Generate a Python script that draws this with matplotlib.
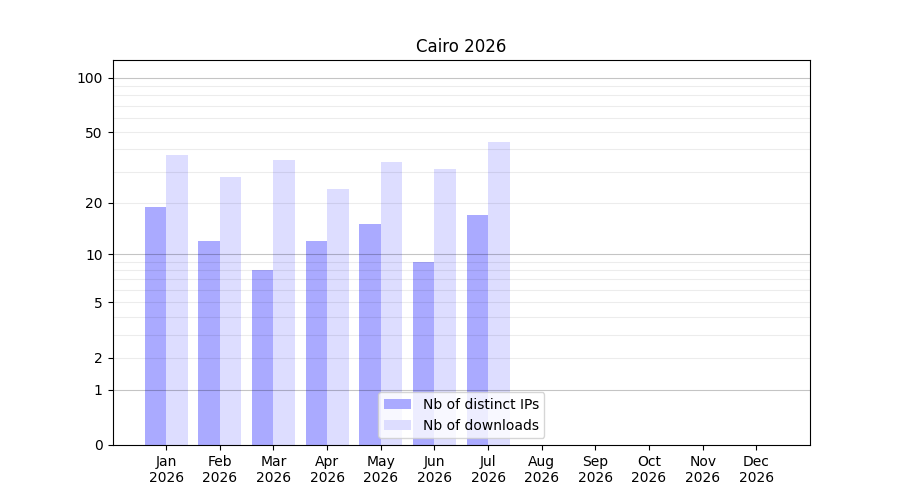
import numpy as np
import matplotlib
matplotlib.use('Agg')
import matplotlib.pyplot as plt
import matplotlib.ticker as ticker

months = ['Jan', 'Feb', 'Mar', 'Apr', 'May', 'Jun',
          'Jul', 'Aug', 'Sep', 'Oct', 'Nov', 'Dec']
year = 2026
distinct_ips = [19, 12, 8, 12, 15, 9, 17, 0, 0, 0, 0, 0]
downloads = [37, 28, 35, 24, 34, 31, 44, 0, 0, 0, 0, 0]

major_ticks = [0, 1, 2, 5, 10, 20, 50, 100]
minor_ticks = [3, 4, 6, 7, 8, 9, 30, 40, 60, 70, 80, 90]
decades = [1, 10, 100]


def forward(v):
    # log(1 + x) so that zero stays on the axis
    return np.log10(1 + np.clip(v, 0, None))


def inverse(v):
    return 10 ** v - 1


fig, ax = plt.subplots(figsize=(9, 5), dpi=100)

x = np.arange(len(months))
width = 0.4
ax.bar(x - width / 2, distinct_ips, width, color='#aaaaff',
       label='Nb of distinct IPs', zorder=2)
ax.bar(x + width / 2, downloads, width, color='#ddddff',
       label='Nb of downloads', zorder=2)

ax.set_yscale('function', functions=(forward, inverse))
ax.set_ylim(0, 125)
ax.yaxis.set_major_locator(ticker.FixedLocator(major_ticks))
ax.yaxis.set_major_formatter(ticker.FixedFormatter([str(t) for t in major_ticks]))
ax.yaxis.set_minor_locator(ticker.FixedLocator(minor_ticks))
ax.yaxis.set_minor_formatter(ticker.NullFormatter())
ax.tick_params(axis='y', which='minor', length=0)

# grid lines sit on top of the bars, semi-transparent
for t in major_ticks[1:] + minor_ticks:
    if t in decades:
        ax.axhline(t, color='black', alpha=0.23, linewidth=0.8, zorder=3)
    else:
        ax.axhline(t, color='black', alpha=0.075, linewidth=0.8, zorder=3)

ax.set_xticks(x)
ax.set_xticklabels([f'{m}\n{year}' for m in months])
ax.set_xlim(-1, 12)

ax.set_title(f'Cairo {year}')
ax.legend(loc='lower center')

fig.savefig('out.png')
